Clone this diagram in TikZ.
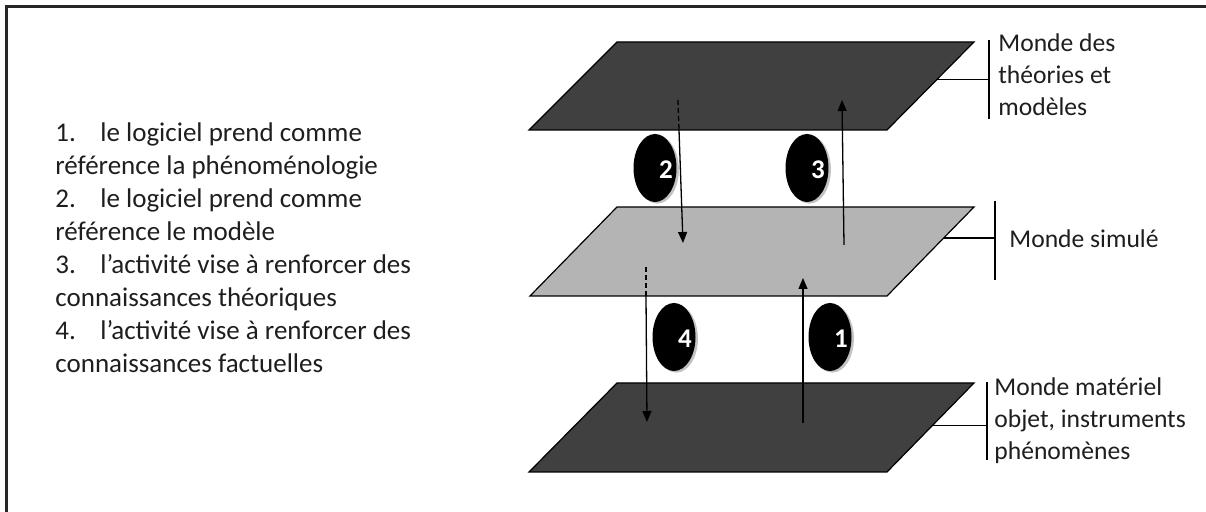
\documentclass[tikz,border=0pt]{standalone}
\usepackage{fontspec}
\setmainfont{Carlito}
\definecolor{planedark}{RGB}{64, 64, 64}
\definecolor{planelight}{RGB}{180, 180, 180}
\definecolor{textgray}{RGB}{30, 30, 30}
\usetikzlibrary{shapes.geometric, arrows.meta, shadows, calc}

\begin{document}
\begin{tikzpicture}[x=0.5pt, y=-0.5pt,
  plane/.style={draw=black, line width=0.6pt},
  flow/.style={line width=0.65pt, -{Triangle[length=5.5pt, width=4.5pt]}},
  hidden/.style={line width=0.65pt, dash pattern=on 2.5pt off 1.5pt},
  tick/.style={line width=0.65pt},
  badge/.style={ellipse, fill=black, minimum width=21.5pt, minimum height=34pt, inner sep=0pt,
    drop shadow={fill=black!40, shadow xshift=1.2pt, shadow yshift=-0.8pt, opacity=0.6}},
  num/.style={text=white, inner sep=0pt, font=\fontsize{13.5}{14}\selectfont\bfseries},
  world/.style={anchor=west, inner sep=0pt, align=left, text=textgray, font=\fontsize{12.8}{16}\selectfont}]

  \useasboundingbox (0,0) rectangle (1206,512);
  \draw[line width=1.5pt, black!85] (6,512) -- (6,7) -- (1206,7);

  % legend
  \node[anchor=north west, inner sep=0pt, align=left, text=textgray, font=\fontsize{13.5}{16.5}\selectfont] (legend) at (55,122) {
    \makebox[22.5pt][l]{1.}le logiciel prend comme\\
    référence la phénoménologie\\
    \makebox[22.5pt][l]{2.}le logiciel prend comme\\
    référence le modèle\\
    \makebox[22.5pt][l]{3.}l'activité vise à renforcer des\\
    connaissances théoriques\\
    \makebox[22.5pt][l]{4.}l'activité vise à renforcer des\\
    connaissances factuelles
  };

  % the three worlds
  \draw[plane, fill=planedark] (529,130) coordinate (top-sw) -- (617,42) coordinate (top-nw)
    -- (974,42) coordinate (top-ne) -- (887,130) coordinate (top-se) -- cycle;
  \draw[plane, fill=planelight] (530,296) coordinate (mid-sw) -- (617,207) coordinate (mid-nw)
    -- (974,207) coordinate (mid-ne) -- (887,296) coordinate (mid-se) -- cycle;
  \draw[plane, fill=planedark] (529,472) coordinate (low-sw) -- (617,383) coordinate (low-nw)
    -- (974,383) coordinate (low-ne) -- (887,472) coordinate (low-se) -- cycle;

  % labels with brackets
  \coordinate (top-edge) at ($(top-se)!0.57!(top-ne)$);
  \coordinate (top-a) at (989,40);
  \coordinate (top-b) at (989,119);
  \draw[tick] (top-a) -- (top-b);
  \draw[tick] (top-edge) -- (top-edge -| top-a);
  \node[world] (theories) at (998,75) {Monde des\\théories et\\modèles};

  \coordinate (mid-edge) at ($(mid-se)!0.65!(mid-ne)$);
  \coordinate (mid-a) at (995,201);
  \coordinate (mid-b) at (995,280);
  \draw[tick] (mid-a) -- (mid-b);
  \draw[tick] (mid-edge) -- (mid-edge -| mid-a);
  \node[world] (simule) at (1009,239) {Monde simulé};

  \coordinate (low-edge) at ($(low-se)!0.52!(low-ne)$);
  \coordinate (low-a) at (987,382);
  \coordinate (low-b) at (987,460);
  \draw[tick] (low-a) -- (low-b);
  \draw[tick] (low-edge) -- (low-edge -| low-a);
  \node[world] (materiel) at (994,421) {Monde matériel\\objet, instruments\\phénomènes};

  % arrows between worlds
  \coordinate (a2-start) at (678,100);
  \coordinate (a2-edge) at (679,130);
  \coordinate (a2-end) at (683,243);
  \draw[hidden] (a2-start) -- (a2-edge);
  \draw[flow] (a2-edge) -- (a2-end);

  \coordinate (a3-start) at (844,245);
  \coordinate (a3-end) at (842,100);
  \draw[flow] (a3-start) -- (a3-end);

  \coordinate (a4-start) at (646,267);
  \coordinate (a4-edge) at (646,296);
  \coordinate (a4-end) at (647,422);
  \draw[hidden] (a4-start) -- (a4-edge);
  \draw[flow] (a4-edge) -- (a4-end);

  \coordinate (a1-start) at (803,423);
  \coordinate (a1-end) at (803,278);
  \draw[flow] (a1-start) -- (a1-end);

  % numbered badges
  \node[badge, label={[num, xshift=5.5pt, yshift=-1pt]center:2}] (b2) at (655,168) {};
  \node[badge, label={[num, xshift=5.5pt, yshift=-1pt]center:3}] (b3) at (807,168) {};
  \node[badge, label={[num, xshift=5.5pt, yshift=-1pt]center:4}] (b4) at (674,337) {};
  \node[badge, label={[num, xshift=5.5pt, yshift=-1pt]center:1}] (b1) at (830,337) {};
\end{tikzpicture}
\end{document}
